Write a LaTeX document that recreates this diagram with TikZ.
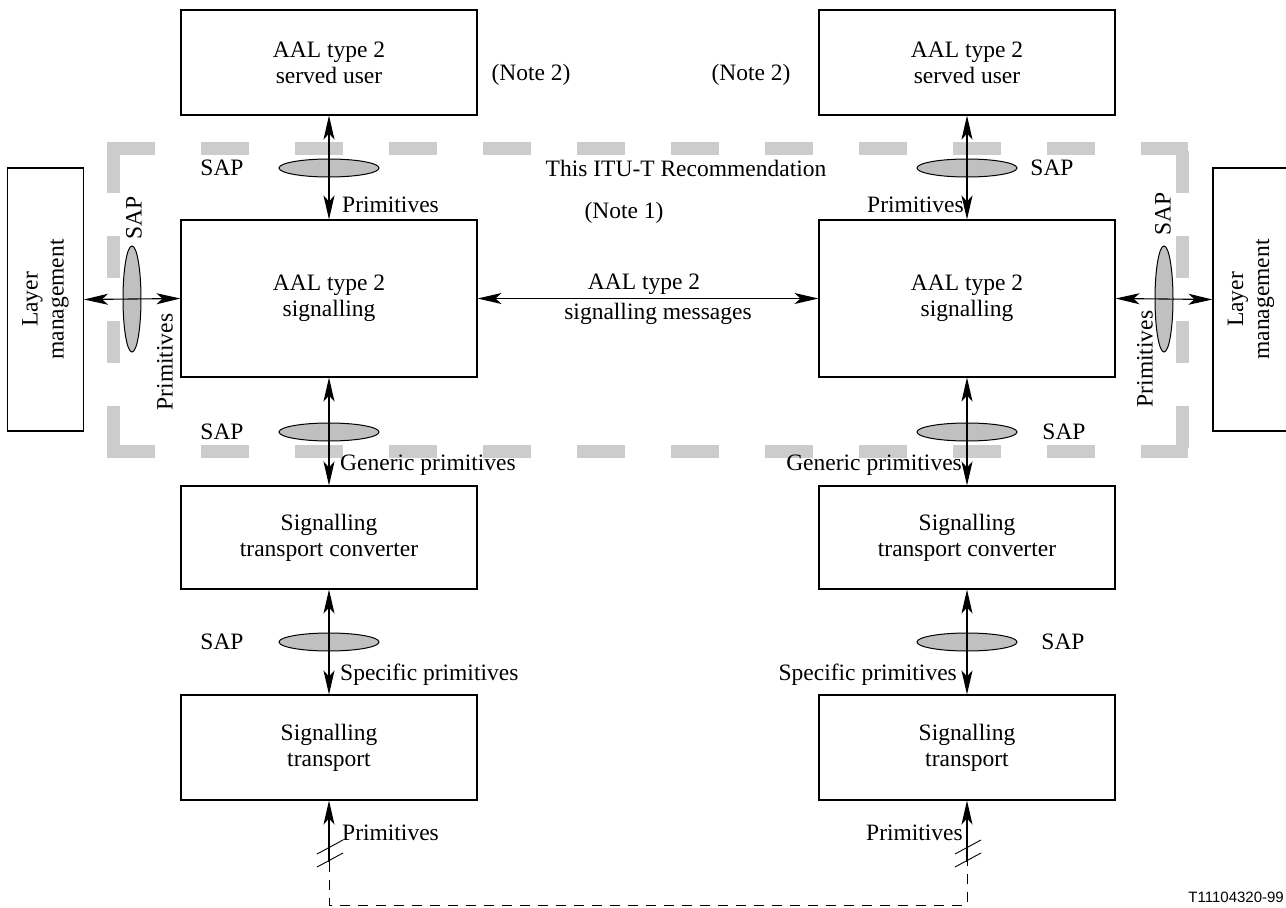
\documentclass[tikz,border=0pt]{standalone}
\usepackage{fontspec}
\setmainfont{Liberation Serif}
\newfontfamily\idfont{Liberation Sans}
\usetikzlibrary{arrows.meta,shapes.geometric}
\definecolor{framegray}{HTML}{CCCCCC}
\definecolor{sapgray}{HTML}{C0C0C0}
\tikzset{
  every node/.style={font=\fontsize{23.5}{26}\selectfont, inner sep=0pt},
  box/.style={draw, line width=1.1pt, align=center, minimum width=296pt},
  lmbox/.style={draw, line width=1.1pt, align=center, minimum width=76pt, minimum height=263pt},
  framepart/.style={framegray, line width=13pt},
  hframe/.style={framepart, dash pattern=on 48pt off 46pt},
  vframe/.style={framepart, dash pattern=on 42pt off 43pt},
  hsap/.style={ellipse, draw, fill=sapgray, line width=1pt, minimum width=100pt, minimum height=18pt},
  vsap/.style={ellipse, draw, fill=sapgray, line width=1pt, minimum width=18pt, minimum height=106pt},
  barbtip/.tip={Stealth[length=24pt,width=11pt,inset=6pt]},
  biarrow/.style={line width=1.1pt, barbtip-barbtip},
  uparrow/.style={line width=1.1pt, -barbtip},
  feedback/.style={line width=1pt, dash pattern=on 10pt off 8pt},
  slash/.style={line width=0.9pt}
}
\begin{document}
\begin{tikzpicture}[x=1pt,y=-1pt]
\useasboundingbox (0,0) rectangle (1286,908);

% grey dashed frame (this Recommendation)
\draw[hframe] (107,148) -- (1188,148);
\draw[hframe] (107,451.5) -- (1188,451.5);
\draw[vframe] (113.5,151) -- (113.5,458);
\draw[vframe] (1182,151) -- (1182,458);

% boxes
\node[box, minimum height=105pt] (LSU) at (329,62.5) {AAL type 2\\served user};
\node[box, minimum height=157pt] (LSIG) at (329,298.5) {AAL type 2\\signalling};
\node[box, minimum height=103pt] (LSTC) at (329,537.5) {Signalling\\transport converter};
\node[box, minimum height=105pt] (LST) at (329,747.5) {Signalling\\transport};

\node[box, minimum height=105pt] (RSU) at (967,62.5) {AAL type 2\\served user};
\node[box, minimum height=157pt] (RSIG) at (967,298.5) {AAL type 2\\signalling};
\node[box, minimum height=103pt] (RSTC) at (967,537.5) {Signalling\\transport converter};
\node[box, minimum height=105pt] (RST) at (967,747.5) {Signalling\\transport};

\node[lmbox] (LLM) at (45.5,299.5) {\rotatebox{90}{\begin{tabular}{@{}c@{}}Layer\\management\end{tabular}}};
\node[lmbox] (RLM) at (1251,299.5) {\rotatebox{90}{\begin{tabular}{@{}c@{}}Layer\\management\end{tabular}}};

% SAP ellipses
\node[hsap] (LSAP1) at (329,168) {};
\node[hsap] (LSAP2) at (329,432) {};
\node[hsap] (LSAP3) at (329,642) {};
\node[hsap] (RSAP1) at (967,168) {};
\node[hsap] (RSAP2) at (967,432) {};
\node[hsap] (RSAP3) at (967,642) {};
\node[vsap] (LSAPV) at (132,299) {};
\node[vsap] (RSAPV) at (1164,299) {};

% connectors
\draw[biarrow] (LSU.south) -- (LSIG.north);
\draw[biarrow] (LSIG.south) -- (LSTC.north);
\draw[biarrow] (LSTC.south) -- (LST.north);
\draw[biarrow] (RSU.south) -- (RSIG.north);
\draw[biarrow] (RSIG.south) -- (RSTC.north);
\draw[biarrow] (RSTC.south) -- (RST.north);
\draw[biarrow] (LLM.east) -- (LSIG.west);
\draw[biarrow] (RSIG.east) -- (RLM.west);
\draw[biarrow] (LSIG.east) -- (RSIG.west);

% bottom primitives and dashed loop
\coordinate (LB) at (329,862);
\coordinate (RB) at (967,862);
\coordinate (LC) at (329,905);
\coordinate (RC) at (967,905);
\draw[uparrow] (LB) -- (LST.south);
\draw[uparrow] (RB) -- (RST.south);
\draw[feedback] (LB) -- (LC) -- (RC) -- (RB);
\draw[slash] (317,854) -- (343,840);
\draw[slash] (317,867) -- (343,853);
\draw[slash] (955,854) -- (981,840);
\draw[slash] (955,867) -- (981,853);

% labels
\node (n2l) at (531,75) {(Note 2)};
\node (n2r) at (751,75) {(Note 2)};
\node (rec) at (686,168) {This ITU-T Recommendation};
\node (n1) at (624,213) {(Note 1)};
\node (msg1) at (644,284) {AAL type 2};
\node (msg2) at (658,314) {signalling messages};

\node (sapl1) at (222,168) {SAP};
\node (sapl2) at (222,432) {SAP};
\node (sapl3) at (222,642) {SAP};
\node (sapr1) at (1052,168) {SAP};
\node (sapr2) at (1064,432) {SAP};
\node (sapr3) at (1063,642) {SAP};
\node[rotate=90] (sapvl) at (134,218) {SAP};
\node[rotate=90] (sapvr) at (1163,214) {SAP};
\node[rotate=90] (primvl) at (165,362) {Primitives};
\node[rotate=90] (primvr) at (1145,359) {Primitives};

\node[anchor=west] (pl1) at (342,205) {Primitives};
\node[anchor=east] (pr1) at (964,205) {Primitives};
\node[anchor=west] (pl2) at (340,465) {Generic primitives};
\node[anchor=east] (pr2) at (962,465) {Generic primitives};
\node[anchor=west] (pl3) at (340,675) {Specific primitives};
\node[anchor=east] (pr3) at (957,675) {Specific primitives};
\node[anchor=west] (pl4) at (342,833) {Primitives};
\node[anchor=east] (pr4) at (963,833) {Primitives};

\node[anchor=east, font=\idfont\fontsize{15}{17}\selectfont] (fid) at (1284,897) {T11104320-99};
\end{tikzpicture}
\end{document}
